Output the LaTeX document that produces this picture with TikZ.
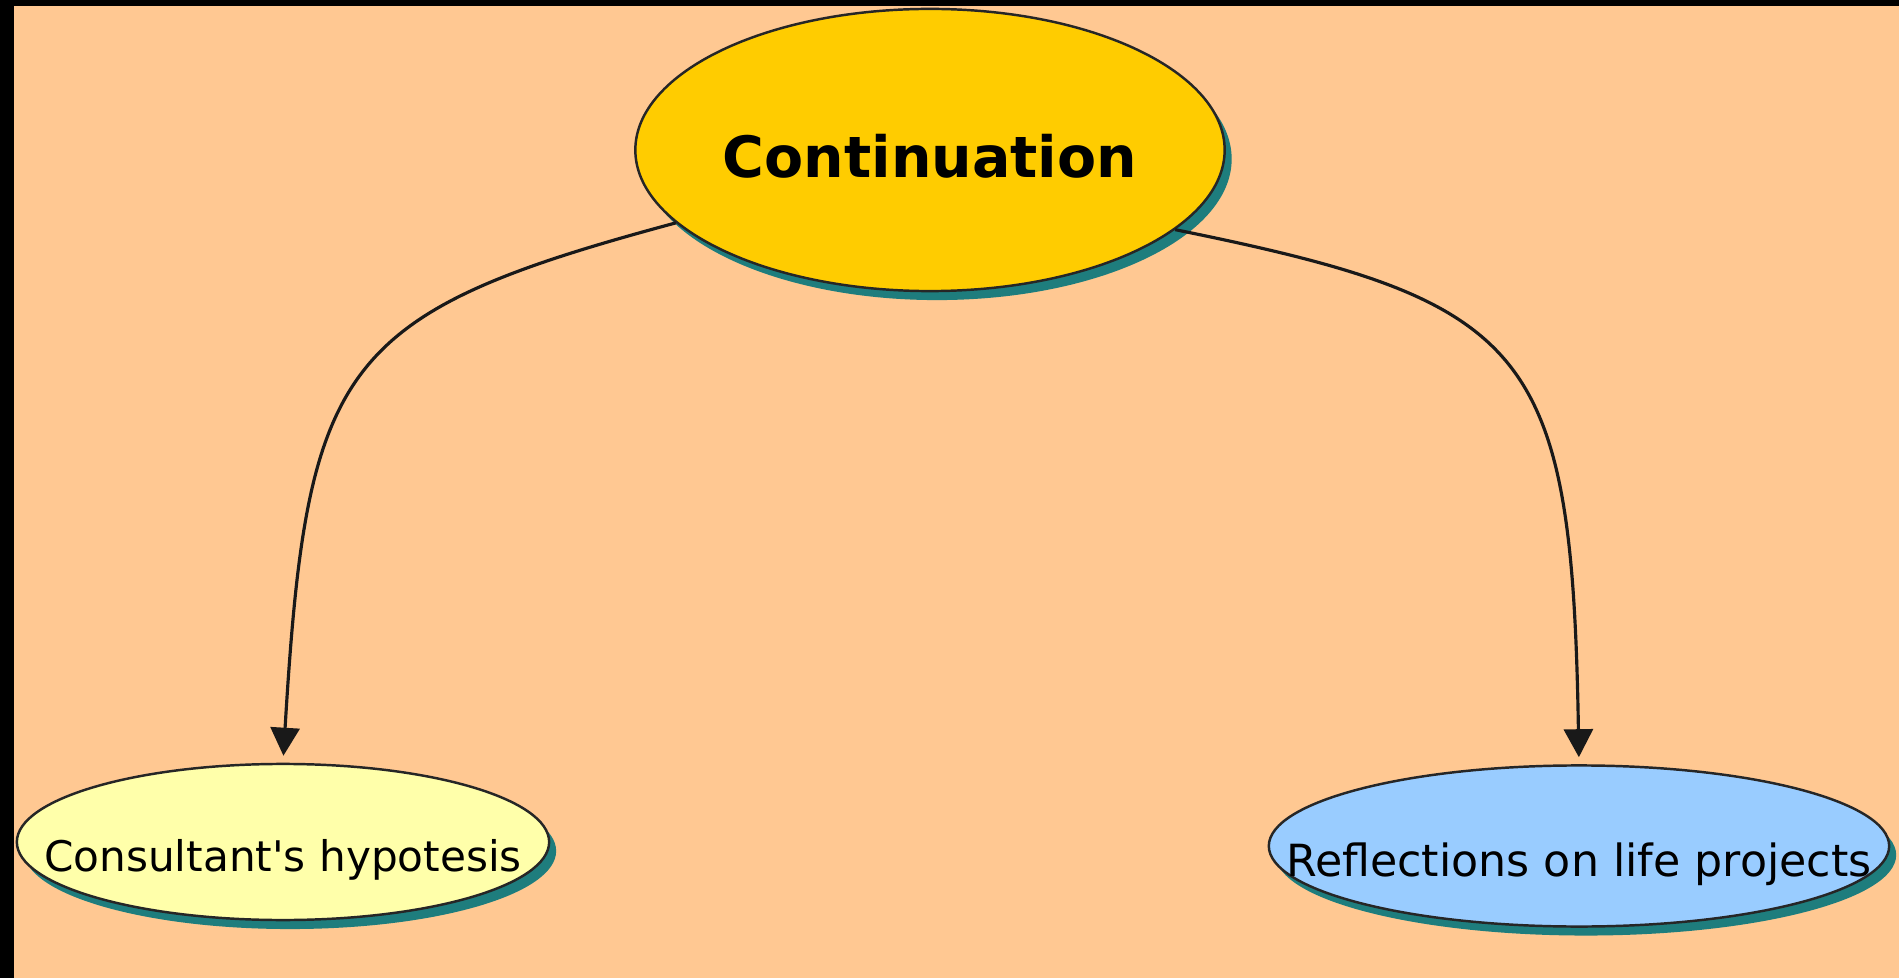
\documentclass[tikz,border=0pt]{standalone}
\usepackage{fontspec}
\setmainfont{DejaVu Sans}
\usetikzlibrary{shapes.geometric,shadows,arrows.meta}
\definecolor{peach}{RGB}{255,200,146}
\definecolor{gold}{RGB}{255,204,0}
\definecolor{paleyellow}{RGB}{255,255,170}
\definecolor{skyblue}{RGB}{153,204,255}
\definecolor{shadowteal}{RGB}{30,125,125}
\newcommand{\straightapos}{\XeTeXglyph\XeTeXglyphindex "quotesingle"\relax}
\tikzset{
  bubble/.style={ellipse, draw=black!85, line width=0.7pt, inner sep=0pt, text depth=0pt,
    drop shadow={fill=shadowteal, opacity=1, shadow xshift=0.07cm, shadow yshift=-0.09cm}},
  link/.style={line width=0.9pt, draw=black!90, -{Triangle[length=0.28cm,width=0.29cm]}, shorten >=0.07cm}
}
\begin{document}
\begin{tikzpicture}[x=0.01cm,y=0.01cm]
    \fill[peach] (0,0) rectangle (1899,978);
    \fill[black] (0,0) rectangle (14,978);
    \fill[black] (0,972) rectangle (1899,978);
    \useasboundingbox (0,0) rectangle (1899,978);
    \node[bubble, fill=gold, minimum width=5.89cm, minimum height=2.82cm, text height=0.54cm,
      font=\fontsize{16.2}{18}\selectfont\bfseries] (cont) at (930,828) {\makebox[0pt]{Continuation}};
    \node[bubble, fill=paleyellow, minimum width=5.32cm, minimum height=1.56cm, text height=0.58cm,
      font=\fontsize{12}{14}\selectfont] (hyp) at (283,136) {\makebox[0pt]{Consultant\straightapos s hypotesis}};
    \node[bubble, fill=skyblue, minimum width=6.20cm, minimum height=1.61cm, text height=0.60cm,
      font=\fontsize{12.6}{15}\selectfont] (refl) at (1579,132) {\makebox[0pt]{Reflections on life projects}};
    \draw[link] (cont.196) .. controls +(-338,-91) and +(24,400) .. (hyp.north);
    \draw[link] (cont.-18) .. controls +(355,-72) and +(-7,418) .. (refl.north);
\end{tikzpicture}
\end{document}
